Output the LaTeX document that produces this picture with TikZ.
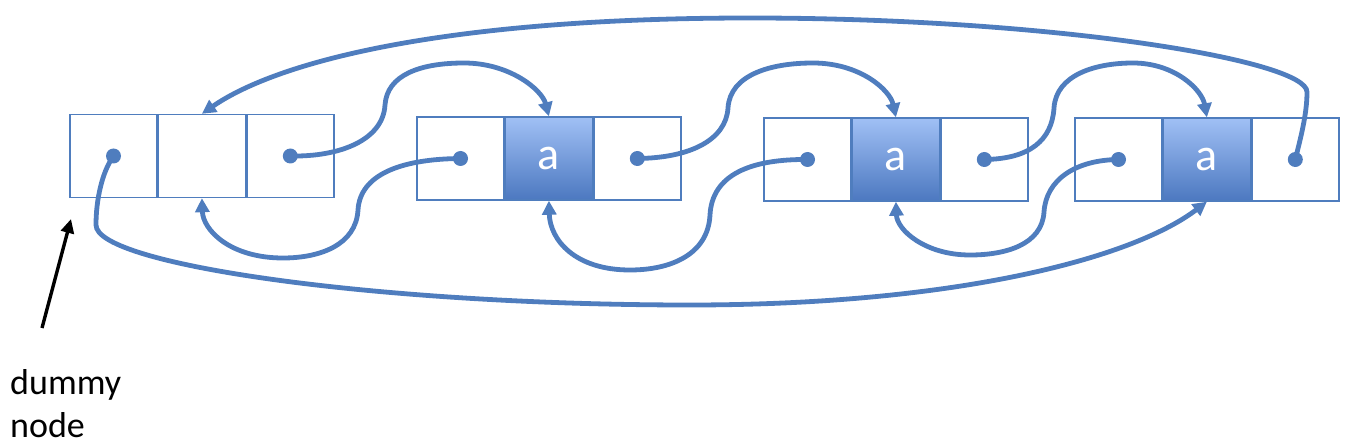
\documentclass[tikz,border=0pt]{standalone}
\usepackage{fontspec}
\setmainfont{Carlito}
\usetikzlibrary{positioning,arrows.meta}
\definecolor{linkblue}{RGB}{79,125,190}
\definecolor{celltop}{RGB}{160,192,245}
\definecolor{cellbot}{RGB}{76,120,192}

\begin{document}
\begin{tikzpicture}[x=1pt,y=-1pt,
        cell/.style={draw=linkblue,line width=1.4pt,minimum width=87pt,minimum height=83pt,inner sep=0pt},
        datacell/.style={cell,top color=celltop,bottom color=cellbot,text=white,font=\fontsize{46}{46}\selectfont},
        link/.style={draw=linkblue,line width=4.8pt,-{Triangle[length=14pt,width=14pt]}},
        ptr/.style={fill=linkblue}]
            \useasboundingbox (0,0) rectangle (1354,446);
            \node[cell] (n1l) at (113.5,156) {};
            \node[cell,right=0pt of n1l] (n1m) {};
            \node[cell,right=0pt of n1m] (n1r) {};
            \node[cell] (n2l) at (460.5,158.5) {};
            \node[datacell,right=0pt of n2l] (n2m) {a};
            \node[cell,right=0pt of n2m] (n2r) {};
            \node[cell] (n3l) at (807.5,159.5) {};
            \node[datacell,right=0pt of n3l] (n3m) {a};
            \node[cell,right=0pt of n3m] (n3r) {};
            \node[cell] (n4l) at (1118.5,159.5) {};
            \node[datacell,right=0pt of n4l] (n4m) {a};
            \node[cell,right=0pt of n4m] (n4r) {};
            \node[anchor=north west,align=left,inner sep=0pt,font=\fontsize{36}{43}\selectfont] (lbl) at (10,369) {dummy\\node};
            \coordinate (tail) at (42,328);
            \coordinate (head) at (71,219);
            \draw[line width=3.4pt,-{Triangle[length=14pt,width=13pt]}] (tail) -- (head);
            % next pointers
            \draw[link] (n1r.center) .. controls (340,157) and (383,140) .. (385,105) .. controls (387,75) and (420,63) .. (464,63) .. controls (510,63) and (542,90) .. (n2m.north);
            \draw[link] (n2r.center) .. controls (690,158) and (726,140) .. (728,108) .. controls (730,75) and (770,63) .. (813,63) .. controls (860,63) and (890,90) .. (n3m.north);
            \draw[link] (n3r.center) .. controls (1030,159) and (1052,140) .. (1054,108) .. controls (1056,75) and (1095,63) .. (1133,63) .. controls (1175,63) and (1202,90) .. (n4m.north);
            \draw[link] (n4r.center) .. controls (1300,140) and (1307,115) .. (1307,92) .. controls (1307,60) and (1050,18) .. (750,18) .. controls (450,18) and (280,60) .. (n1m.north);
            % prev pointers
            \draw[link] (n2l.center) .. controls (400,159) and (360,175) .. (358,210) .. controls (356,245) and (320,258) .. (283,258) .. controls (230,258) and (203,230) .. (n1m.south);
            \draw[link] (n3l.center) .. controls (750,159) and (712,175) .. (710,215) .. controls (708,255) and (670,270) .. (630,270) .. controls (575,270) and (550,240) .. (n2m.south);
            \draw[link] (n4l.center) .. controls (1075,160) and (1046,180) .. (1044,212) .. controls (1042,245) and (1005,255) .. (970,255) .. controls (925,255) and (897,230) .. (n3m.south);
            \draw[link] (n1l.center) .. controls (102,172) and (96,200) .. (96,225) .. controls (96,265) and (380,305) .. (690,305) .. controls (950,305) and (1130,260) .. (n4m.south);
            % pointer dots
            \foreach \c in {n1l,n1r,n2l,n2r,n3l,n3r,n4l,n4r}
                \fill[ptr] (\c.center) circle (7.5pt);
        \end{tikzpicture}
\end{document}
